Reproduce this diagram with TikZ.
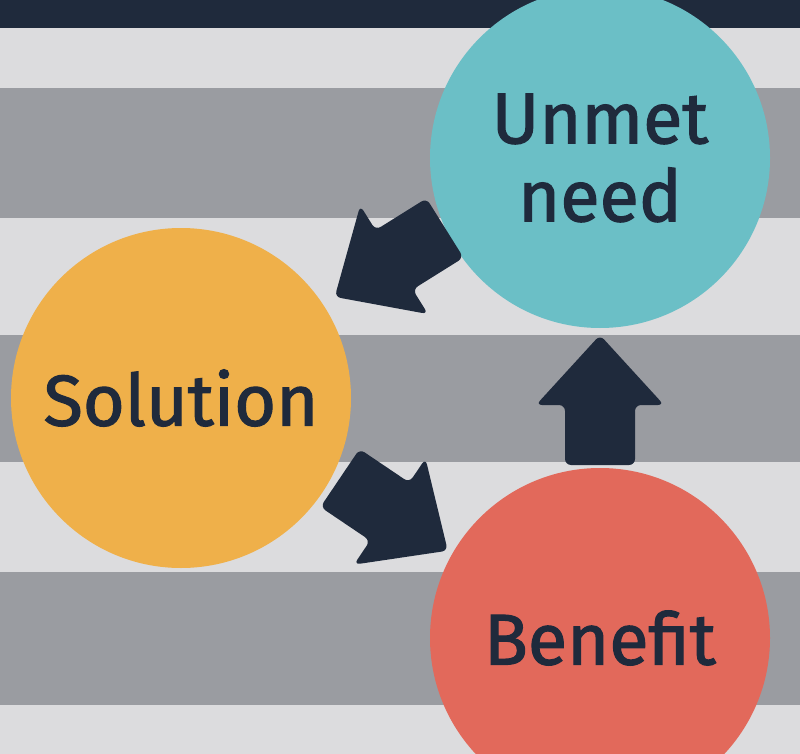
\documentclass[tikz,border=0pt]{standalone}
\usepackage{fontspec}
\setmainfont{Fira Sans}
\newfontfamily\medfont[FakeBold=1.6]{Fira Sans}
\definecolor{navy}{HTML}{1F2A3C}
\definecolor{lite}{HTML}{DCDCDE}
\definecolor{gry}{HTML}{9A9CA1}
\definecolor{teal}{HTML}{6BBFC6}
\definecolor{orng}{HTML}{EFB04A}
\definecolor{redd}{HTML}{E2695B}
\tikzset{
 bubble/.style={circle,minimum size=340pt,inner sep=0pt,text=navy,font=\fontsize{72}{78}\selectfont\medfont,align=center},
 blockarrow/.pic={\fill[navy,rounded corners=6pt] (0,-35)--(60,-35)--(60,-64)--(130,0)--(60,64)--(60,35)--(0,35)--cycle;}
}
\begin{document}
\begin{tikzpicture}[x=1pt,y=-1pt]
\useasboundingbox (0,0) rectangle (800,754);
\fill[lite] (0,0) rectangle (800,754);
\fill[navy] (0,0) rectangle (800,28);
\fill[gry] (0,88) rectangle (800,218);
\fill[gry] (0,335) rectangle (800,462);
\fill[gry] (0,572) rectangle (800,705);
\node[bubble,fill=teal] (need) at (600,158) {Unmet\\need};
\node[bubble,fill=orng] (sol) at (181,398) {Solution};
\node[bubble,fill=redd] (ben) at (600,638) {Benefit};
\pic[rotate=90] at (600,465) {blockarrow};
\pic[rotate=-148] at (445,228) {blockarrow};
\pic[rotate=-34] at (340,478) {blockarrow};
\end{tikzpicture}
\end{document}
